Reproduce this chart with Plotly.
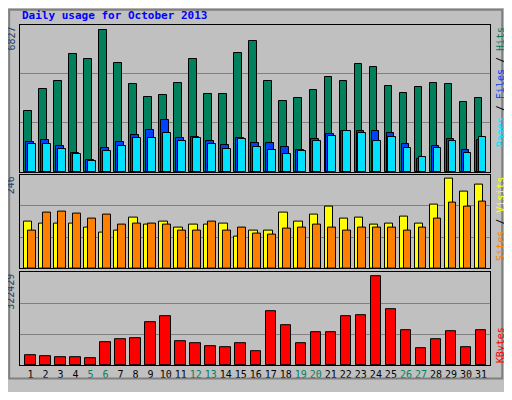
import plotly.graph_objects as go
from plotly.subplots import make_subplots

days = list(range(1, 32))
hits = [2941,3975,4346,5690,5412,6827,5226,4207,3604,3697,4253,5412,3743,3743,5737,6293,4346,3419,3558,3929,4578,4346,5180,5041,4114,3790,4068,4253,4207,3372,3558]
files = [1422,1515,1236,912,587,1144,1422,1793,2025,2488,1607,1700,1468,1283,1607,1376,1376,1190,1051,1561,1839,1978,1978,1978,1885,1329,633,1236,1561,1051,1515]
pages = [1329,1329,1097,866,541,1005,1236,1607,1607,1885,1468,1607,1329,1097,1561,1190,1051,866,1005,1468,1746,1978,1885,1468,1700,1144,727,1144,1468,912,1653]
visits = [129,124,124,124,111,97,105,140,119,129,113,121,119,124,87,103,103,154,129,147,169,137,140,121,124,142,124,175,246,211,230]
sites = [105,153,156,150,137,147,121,124,124,119,103,105,129,103,113,95,92,108,111,121,111,103,113,113,111,105,113,137,179,169,182]
kbytes = [37520,33003,29485,29485,25967,83250,93803,97321,157129,178235,86768,79732,69179,65661,79732,51590,196117,143058,80904,118426,118426,178235,181753,322429,203153,125462,62143,93803,121944,65661,126633]

GREEN = "#00805C"
weekend = {5, 6, 12, 13, 19, 20, 26, 27}
ticktext = [f"<span style='color:{GREEN}'>{d}</span>" if d in weekend else str(d) for d in days]

fig = make_subplots(rows=3, cols=1, shared_xaxes=True, vertical_spacing=0.0)

def bar(y, color, offset, width, row):
    fig.add_trace(go.Bar(x=days, y=y, offset=offset, width=width,
                         marker=dict(color=color, line=dict(color="black", width=1)),
                         showlegend=False, hoverinfo="skip"), row=row, col=1)

bar(hits, "#00805C", -0.42, 0.52, 1)
bar(files, "#0040FF", -0.29, 0.52, 1)
bar(pages, "#00E0FF", -0.16, 0.52, 1)
bar(visits, "#FFFF00", -0.42, 0.55, 2)
bar(sites, "#FF8000", -0.16, 0.52, 2)
bar(kbytes, "#FF0000", -0.35, 0.7, 3)

ranges = [7060, 257, 337500]
domains = [[0.568, 1.0], [0.284, 0.560], [0.0, 0.273]]
mono = "DejaVu Sans Mono"
for i in range(3):
    R = ranges[i]
    fig.update_yaxes(dict(range=[0, R], domain=domains[i], tickvals=[R / 3, 2 * R / 3], showticklabels=False,
                          ticks="", showgrid=True, gridcolor="#808080", gridwidth=1, zeroline=False,
                          showline=True, linecolor="black", mirror=True, linewidth=1, fixedrange=True),
                     row=i + 1, col=1)
    fig.update_xaxes(dict(range=[0.3, 31.6], showgrid=False, zeroline=False, showline=True,
                          linecolor="black", mirror=True, linewidth=1, ticks="", tickangle=0,
                          tickvals=days, ticktext=ticktext, showticklabels=(i == 2),
                          tickfont=dict(family=mono, size=10, color="black")),
                     row=i + 1, col=1)

annotations = [
    dict(text="<b>Daily usage for October 2013</b>", x=0.0, xanchor="left", y=1.028, yanchor="middle",
         xref="paper", yref="paper", showarrow=False, font=dict(color="#0000FF", size=11, family=mono)),
    dict(text="6827", x=-0.004, xanchor="right", y=1.0, yanchor="top", textangle=-90, xref="paper", yref="paper",
         showarrow=False, font=dict(size=10, family=mono)),
    dict(text="246", x=-0.004, xanchor="right", y=0.560, yanchor="top", textangle=-90, xref="paper", yref="paper",
         showarrow=False, font=dict(size=10, family=mono)),
    dict(text="322429", x=-0.004, xanchor="right", y=0.273, yanchor="top", textangle=-90, xref="paper", yref="paper",
         showarrow=False, font=dict(size=10, family=mono)),
    dict(text="<span style='color:#00E0FF'>Pages</span> / <span style='color:#0040FF'>Files</span> / <span style='color:#00805C'>Hits</span>",
         x=1.006, xanchor="left", y=1.0, yanchor="top", textangle=-90, xref="paper", yref="paper",
         showarrow=False, font=dict(size=10, family=mono, color="black")),
    dict(text="<span style='color:#FF8000'>Sites</span> / <span style='color:#FFFF00'>Visits</span>",
         x=1.006, xanchor="left", y=0.560, yanchor="top", textangle=-90, xref="paper", yref="paper",
         showarrow=False, font=dict(size=10, family=mono, color="black")),
    dict(text="<span style='color:#FF0000'>KBytes</span>",
         x=1.006, xanchor="left", y=0.0, yanchor="bottom", textangle=-90, xref="paper", yref="paper",
         showarrow=False, font=dict(size=10, family=mono, color="black")),
]

fig.update_layout(
    width=496, height=384, barmode="overlay", bargap=0,
    paper_bgcolor="#C0C0C0", plot_bgcolor="#C0C0C0",
    margin=dict(l=12, r=14, t=17, b=15, pad=0),
    annotations=annotations,
    shapes=[
        dict(type="rect", xref="paper", yref="paper", x0=-0.023, x1=1.026, y0=-0.04, y1=1.045,
             line=dict(color="#808080", width=2)),
    ],
)
fig.write_html("out.html")
